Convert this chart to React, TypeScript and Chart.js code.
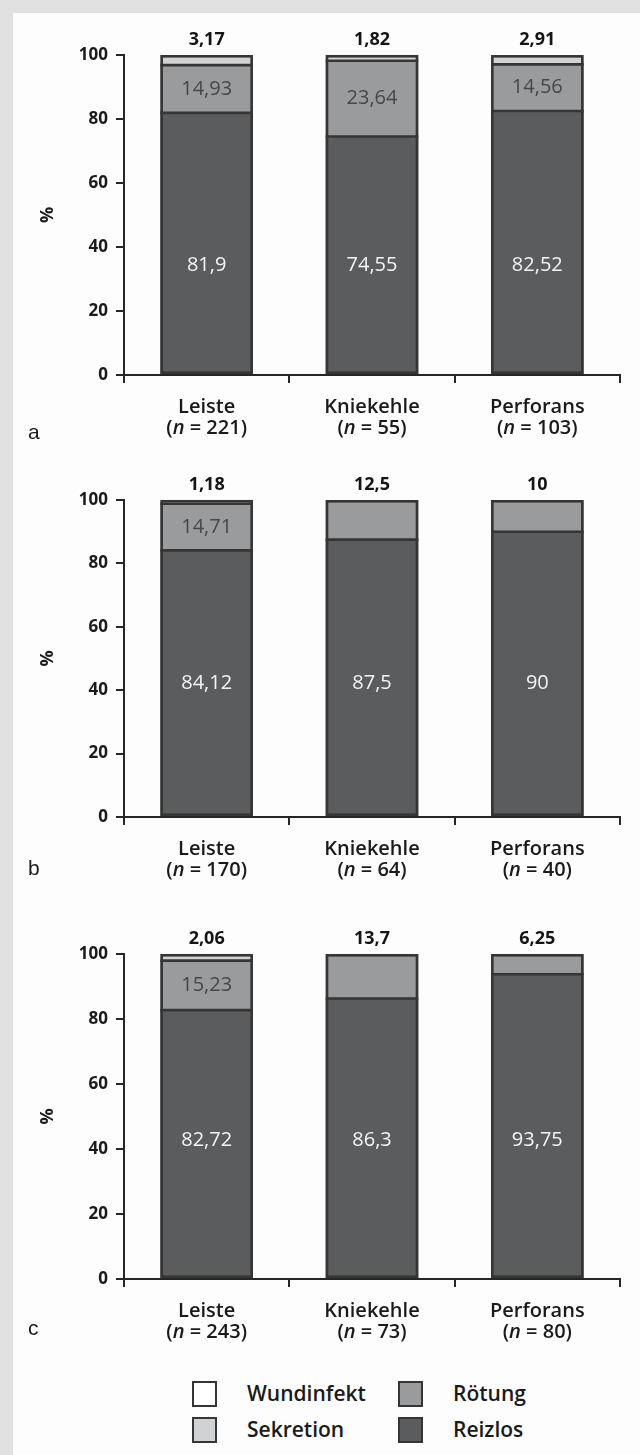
import React, { useEffect, useRef } from 'react';
import { Chart, registerables } from 'chart.js';

Chart.register(...registerables);

// ---------- data ----------
const categories = ['Leiste', 'Kniekehle', 'Perforans'];
const seriesNames = ['Reizlos', 'Rötung', 'Sekretion', 'Wundinfekt'];
const seriesColors = ['#5b5c5e', '#9a9b9d', '#d1d2d4', '#ffffff'];
const yTickValues = [0, 20, 40, 60, 80, 100];

const nA = [221, 55, 103];
const reizlosA = [81.9, 74.55, 82.52];
const roetungA = [14.93, 23.64, 14.56];
const sekretionA = [3.17, 1.82, 2.91];
const wundinfektA = [0, 0, 0];

const nB = [170, 64, 40];
const reizlosB = [84.12, 87.5, 90];
const roetungB = [14.71, 12.5, 10];
const sekretionB = [1.18, 0, 0];
const wundinfektB = [0, 0, 0];

const nC = [243, 73, 80];
const reizlosC = [82.72, 86.3, 93.75];
const roetungC = [15.23, 13.7, 6.25];
const sekretionC = [2.06, 0, 0];
const wundinfektC = [0, 0, 0];

const legendOrder = ['Wundinfekt', 'Rötung', 'Sekretion', 'Reizlos'];

// ---------- styling ----------
const FONT = '"Open Sans", "Noto Sans", sans-serif';
const AXIS = '#262626';
const BORDER = '#353535';
const LINE_W = 2.6;

const fmt = (v: number) => String(v).replace('.', ',');

const labelPlugin = {
  id: 'valueLabels',
  afterDatasetsDraw(chart: any, _args: any, opts: any) {
    const { ctx } = chart;
    const yScale = chart.scales.y;
    const ds = chart.data.datasets;
    const nCat = chart.data.labels.length;
    for (let i = 0; i < nCat; i++) {
      let top = -1;
      for (let d = ds.length - 1; d >= 0; d--) {
        const v = ds[d].data[i];
        if (v && v > 0) { top = d; break; }
      }
      if (top < 0) continue;
      const baseEl = chart.getDatasetMeta(0).data[i].getProps(['x', 'y', 'base', 'width'], true);
      const topEl = chart.getDatasetMeta(top).data[i].getProps(['x', 'y', 'base', 'width'], true);
      const left = baseEl.x - baseEl.width / 2;
      const right = left + baseEl.width;
      ctx.save();
      ctx.strokeStyle = BORDER;
      ctx.lineWidth = LINE_W;
      // separators between segments
      for (let d = 0; d < top; d++) {
        const v = ds[d].data[i];
        if (!v) continue;
        const el = chart.getDatasetMeta(d).data[i].getProps(['y'], true);
        ctx.beginPath();
        ctx.moveTo(left, el.y);
        ctx.lineTo(right, el.y);
        ctx.stroke();
      }
      // outline of the whole stack
      ctx.strokeRect(left + LINE_W / 2, topEl.y + LINE_W / 2, baseEl.width - LINE_W, baseEl.base - topEl.y - LINE_W);
      ctx.textAlign = 'center';
      ctx.textBaseline = 'middle';
      // label above the stack
      ctx.fillStyle = '#151515';
      ctx.font = `bold 18px ${FONT}`;
      ctx.fillText(fmt(ds[top].data[i]), baseEl.x, topEl.y - 15);
      for (let d = 0; d < top; d++) {
        const v = ds[d].data[i];
        if (!v) continue;
        const el = chart.getDatasetMeta(d).data[i].getProps(['x', 'y', 'base'], true);
        ctx.font = `20px ${FONT}`;
        if (d === 0) {
          ctx.fillStyle = '#f4f4f4';
          ctx.fillText(fmt(v), el.x, yScale.getPixelForValue(opts.reizlosPos));
        } else {
          ctx.fillStyle = '#474747';
          ctx.fillText(fmt(v), el.x, (el.y + el.base) / 2);
        }
      }
      ctx.restore();
    }
  },
};

const catPlugin = {
  id: 'catLabels',
  afterDraw(chart: any, _args: any, opts: any) {
    const { ctx, chartArea } = chart;
    const xs = chart.scales.x;
    ctx.save();
    ctx.fillStyle = '#1a1a1a';
    ctx.textBaseline = 'middle';
    chart.data.labels.forEach((lab: string, i: number) => {
      const x = xs.getPixelForValue(i);
      ctx.font = `600 20px ${FONT}`;
      ctx.textAlign = 'center';
      ctx.fillText(lab, x, chartArea.bottom + 32);
      const p1 = '(';
      const p3 = ` = ${opts.n[i]})`;
      ctx.font = `600 20px ${FONT}`;
      const w1 = ctx.measureText(p1).width;
      const w3 = ctx.measureText(p3).width;
      ctx.font = `italic 600 20px ${FONT}`;
      const w2 = ctx.measureText('n').width;
      let sx = x - (w1 + w2 + w3) / 2;
      const yy = chartArea.bottom + 53;
      ctx.textAlign = 'left';
      ctx.font = `600 20px ${FONT}`;
      ctx.fillText(p1, sx, yy);
      sx += w1;
      ctx.font = `italic 600 20px ${FONT}`;
      ctx.fillText('n', sx, yy);
      sx += w2;
      ctx.font = `600 20px ${FONT}`;
      ctx.fillText(p3, sx, yy);
    });
    ctx.restore();
  },
};

type PanelProps = {
  series: number[][];
  n: number[];
  canvasTop: number;
  chartTop: number;
  chartBottom: number;
  reizlosPos: number;
};

function Panel({ series, n, canvasTop, chartTop, chartBottom, reizlosPos }: PanelProps) {
  const ref = useRef<HTMLCanvasElement | null>(null);
  const height = chartBottom + 75 - canvasTop;
  useEffect(() => {
    if (!ref.current) return;
    const chart = new Chart(ref.current, {
      type: 'bar',
      data: {
        labels: categories,
        datasets: series.map((vals, k) => ({
          label: seriesNames[k],
          data: vals.map((v) => (v > 0 ? v : null)),
          backgroundColor: seriesColors[k],
          borderWidth: 0,
          categoryPercentage: 1,
          barPercentage: 0.56,
        })),
      },
      options: {
        animation: false,
        responsive: false,
        maintainAspectRatio: false,
        layout: { padding: { top: chartTop - canvasTop, right: 20, left: 0, bottom: 0 } },
        plugins: {
          legend: { display: false },
          tooltip: { enabled: false },
          valueLabels: { reizlosPos },
          catLabels: { n },
        } as any,
        scales: {
          x: {
            stacked: true,
            offset: true,
            grid: {
              display: true,
              offset: true,
              drawOnChartArea: false,
              drawTicks: true,
              tickLength: 8,
              color: AXIS,
              lineWidth: 2,
            },
            border: { display: true, color: AXIS, width: 2 },
            ticks: { display: false },
            afterFit: (s: any) => { s.height = 75; },
          },
          y: {
            stacked: true,
            min: 0,
            max: 100,
            afterBuildTicks: (s: any) => { s.ticks = yTickValues.map((v) => ({ value: v })); },
            ticks: { font: { family: FONT, weight: 'bold', size: 17 }, color: '#1a1a1a', padding: 8 },
            grid: { drawOnChartArea: false, drawTicks: true, tickLength: 8, color: AXIS, lineWidth: 2 },
            border: { display: true, color: AXIS, width: 2 },
            title: {
              display: true,
              text: '%',
              color: '#1a1a1a',
              font: { family: FONT, weight: 'bold', size: 18 },
              padding: { top: 37, bottom: 0 },
            },
            afterFit: (s: any) => { s.width = 124; },
          },
        },
      } as any,
      plugins: [labelPlugin, catPlugin],
    });
    return () => chart.destroy();
  }, []);
  return (
    <canvas
      ref={ref}
      width={640}
      height={height}
      style={{ position: 'absolute', left: 0, top: canvasTop, width: 640, height }}
    />
  );
}

const letterStyle = (top: number): React.CSSProperties => ({
  position: 'absolute',
  left: 28,
  top,
  fontFamily: '"Liberation Sans", Arial, sans-serif',
  fontSize: 21,
  lineHeight: '22px',
  color: '#1a1a1a',
});

export default function App() {
  const legendColor = (name: string) => seriesColors[seriesNames.indexOf(name)];
  return (
    <div style={{ position: 'absolute', left: 0, top: 0, width: 640, height: 1455, background: '#e1e1e1', overflow: 'hidden' }}>
      <div style={{ position: 'absolute', left: 13, top: 13, right: 0, bottom: 0, background: '#fdfdfd' }} />
      <Panel series={[reizlosA, roetungA, sekretionA, wundinfektA]} n={nA} canvasTop={14} chartTop={55} chartBottom={375} reizlosPos={34.4} />
      <Panel series={[reizlosB, roetungB, sekretionB, wundinfektB]} n={nB} canvasTop={450} chartTop={500} chartBottom={817} reizlosPos={42.3} />
      <Panel series={[reizlosC, roetungC, sekretionC, wundinfektC]} n={nC} canvasTop={892} chartTop={954} chartBottom={1279} reizlosPos={42.8} />
      <div style={letterStyle(421)}>a</div>
      <div style={letterStyle(857)}>b</div>
      <div style={letterStyle(1317)}>c</div>
      <div
        style={{
          position: 'absolute',
          left: 192,
          top: 1381,
          display: 'grid',
          gridTemplateColumns: '206px auto',
          gridAutoRows: '36px',
          fontFamily: FONT,
          fontWeight: 600,
          fontSize: 21,
          color: '#1a1a1a',
        }}
      >
        {legendOrder.map((name) => (
          <div key={name} style={{ display: 'flex', alignItems: 'flex-start', height: 36 }}>
            <div
              style={{
                width: 25,
                height: 26,
                boxSizing: 'border-box',
                border: `2.8px solid ${BORDER}`,
                background: legendColor(name),
                flex: '0 0 auto',
              }}
            />
            <div style={{ marginLeft: 30, lineHeight: '25px', whiteSpace: 'nowrap' }}>{name}</div>
          </div>
        ))}
      </div>
    </div>
  );
}
